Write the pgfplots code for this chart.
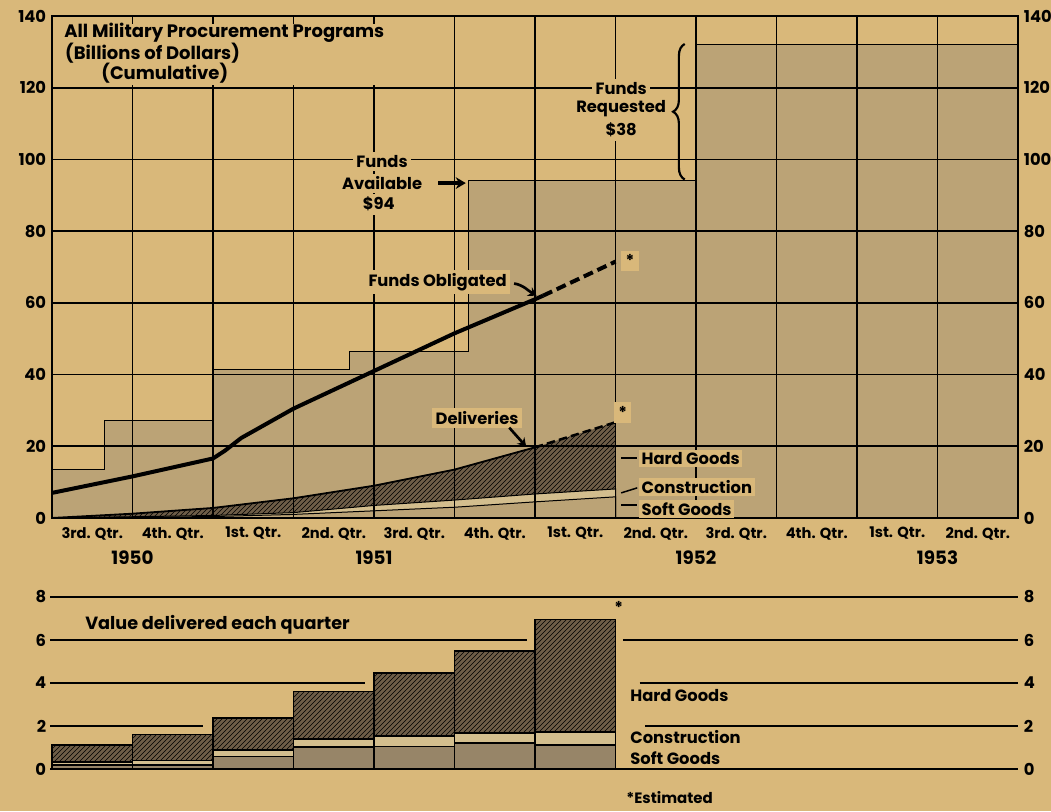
\documentclass[border=0pt]{standalone}
\usepackage{fontspec}
\setmainfont{Poppins}
\usepackage{pgfplots}
\pgfplotsset{compat=1.18}
\usetikzlibrary{patterns,decorations.pathreplacing,arrows.meta}
\definecolor{paper}{HTML}{D9B87A}
\definecolor{stip}{HTML}{BBA376}
\definecolor{hard}{HTML}{6E5D47}
\definecolor{softc}{HTML}{978568}
\definecolor{constc}{HTML}{D3BE8E}
\newcommand\lab{\bfseries\fontsize{9.8}{11}\selectfont}
\newcommand\qlab{\bfseries\fontsize{8.8}{10}\selectfont}
\pgfplotsset{
  topax/.style={
    at={(31.2pt,175.8pt)}, anchor=south west,
    scale only axis, width=579.6pt, height=301.2pt,
    xmin=0, xmax=12, ymin=0, ymax=140},
  botax/.style={
    at={(31.2pt,25.2pt)}, anchor=south west,
    scale only axis, width=579.6pt, height=103.2pt,
    xmin=0, xmax=12, ymin=0, ymax=8},
}
\begin{document}
\begin{tikzpicture}
\fill[paper] (0,0) rectangle (630.6pt,486.6pt);
% ---------------- top chart: filled areas ----------------
\begin{axis}[topax, hide axis, clip=false]
% funds available / requested
\addplot[const plot, fill=stip, draw=black, line width=0.6pt]
  coordinates {(0,13.6) (0.65,27.3) (2,41.5) (3.69,46.4) (5.17,94) (8,132) (12,132)} \closedcycle;
% deliveries (cumulative): hard goods, construction, soft goods
\addplot[fill=hard, draw=none, postaction={pattern=north east lines, pattern color=black}]
  coordinates {(0,0) (1,1.2) (2,2.8) (3,5.5) (4,9.0) (5,13.5) (6,19.7) (7,26.7)} \closedcycle;
\addplot[fill=constc, draw=black, line width=0.6pt]
  coordinates {(0,0) (1,0.35) (2,0.7) (3,1.5) (4,3.5) (5,5.0) (6,6.7) (7,8.1)} \closedcycle;
\addplot[fill=stip, draw=black, line width=0.6pt]
  coordinates {(0,0) (1,0.2) (2,0.4) (3,1.0) (4,2.0) (5,3.0) (6,4.5) (7,5.9)} \closedcycle;
\end{axis}
% ---------------- top chart: frame, grid, lines, labels ----------------
\begin{axis}[topax,
  clip=false,
  axis line style={line width=1.3pt},
  xtick={0.5,1.5,...,11.5},
  xticklabels={3rd. Qtr.,4th. Qtr.,1st. Qtr.,2nd. Qtr.,3rd. Qtr.,4th. Qtr.,1st. Qtr.,2nd. Qtr.,3rd. Qtr.,4th. Qtr.,1st. Qtr.,2nd. Qtr.},
  minor xtick={1,...,11},
  xminorgrids=true, xmajorgrids=false,
  ytick={0,20,...,140}, ymajorgrids=true,
  major grid style={black, line width=1pt},
  minor grid style={black, line width=1pt},
  tick style={draw=none},
  yticklabel pos=left,
  yticklabel style={font=\lab},
  xticklabel style={font=\qlab, yshift=-2pt},
  /pgf/number format/assume math mode=true,
]
% deliveries top edge
\addplot[black, line width=1.1pt] coordinates {(0,0) (1,1.2) (2,2.8) (3,5.5) (4,9.0) (5,13.5) (6,19.7)};
\addplot[black, line width=1.5pt, dash pattern=on 5pt off 2.5pt] coordinates {(6,19.7) (7,26.7)};
% funds obligated
\addplot[black, line width=2.4pt] coordinates {(0,7) (1,11.6) (2,16.6) (2.15,18.8) (2.35,22.3) (3,30.5) (4,41) (5,51.5) (6,61) (6.1,62)};
\addplot[black, line width=2.4pt, dash pattern=on 6pt off 3pt] coordinates {(6.1,62) (7,71.5)};
% blank title area
\fill[paper] (axis cs:0.04,120.8) rectangle (axis cs:4.15,139.3);
\draw[line width=1pt] (axis cs:1,140) -- (axis cs:1,137.8);
\draw[line width=1pt] (axis cs:2,140) -- (axis cs:2,137.8);
\draw[line width=1pt] (axis cs:3,140) -- (axis cs:3,137.8);
\draw[line width=1pt] (axis cs:4,140) -- (axis cs:4,137.8);
\node[anchor=west, font=\bfseries\fontsize{10.8}{12}\selectfont, inner sep=0] at (axis cs:0.15,135.2) {All Military Procurement Programs};
\node[anchor=west, font=\bfseries\fontsize{10.8}{12}\selectfont, inner sep=0] at (axis cs:0.16,129.7) {(Billions of Dollars)};
\node[anchor=west, font=\bfseries\fontsize{10.8}{12}\selectfont, inner sep=0] at (axis cs:0.61,124.1) {(Cumulative)};
% funds available
\node[fill=paper, font=\lab, inner sep=2pt] at (axis cs:4.1,99.4) {Funds};
\node[fill=paper, font=\lab, inner sep=2pt] at (axis cs:4.1,93.3) {Available};
\node[fill=paper, font=\lab, inner sep=2pt] at (axis cs:4.06,87.5) {\$94};
\draw[-{Stealth[length=6pt,width=7pt]}, line width=2pt] (axis cs:4.8,93.4) -- (axis cs:5.14,93.4);
% funds requested
\node[fill=paper, font=\lab, inner sep=2pt] at (axis cs:7.07,119.9) {Funds};
\node[fill=paper, font=\lab, inner sep=2pt] at (axis cs:7.07,114.1) {Requested};
\node[fill=paper, font=\lab, inner sep=2pt] at (axis cs:7.07,108.2) {\$38};
\draw[decorate, decoration={brace, amplitude=7pt}, line width=1.3pt] (axis cs:7.86,94.4) -- (axis cs:7.86,132.2);
% funds obligated label
\node[fill=paper, font=\lab, inner sep=2pt] at (axis cs:4.79,65.8) {Funds Obligated};
\draw[-{Stealth[length=5pt,width=6pt]}, line width=1.6pt] (axis cs:5.74,65.4) to[out=-10,in=150] (axis cs:6.02,62.0);
\node[fill=paper, font=\lab, inner sep=2.5pt] at (axis cs:7.18,71.7) {*};
% deliveries label
\node[fill=paper, font=\lab, inner sep=2pt] at (axis cs:5.28,27.9) {Deliveries};
\draw[-{Stealth[length=5pt,width=6pt]}, line width=1.6pt] (axis cs:5.68,25.2) -- (axis cs:5.89,19.9);
\node[fill=paper, font=\lab, inner sep=2.5pt] at (axis cs:7.09,29.4) {*};
% layer labels
\draw[line width=0.9pt] (axis cs:7.07,16.7) -- (axis cs:7.27,16.7);
\draw[line width=0.9pt] (axis cs:7.07,7.0) -- (axis cs:7.27,8.4);
\draw[line width=0.9pt] (axis cs:7.07,3.6) -- (axis cs:7.27,3.6);
\node[anchor=west, fill=paper, font=\lab, inner sep=1.5pt] at (axis cs:7.29,16.7) {Hard Goods};
\node[anchor=west, fill=paper, font=\lab, inner sep=1.5pt] at (axis cs:7.29,8.6) {Construction};
\node[anchor=west, fill=paper, font=\lab, inner sep=1.5pt] at (axis cs:7.29,2.5) {Soft Goods};
% years
\node[font=\bfseries\fontsize{11}{13}\selectfont] at (axis cs:1,0) [yshift=-24pt] {1950};
\node[font=\bfseries\fontsize{11}{13}\selectfont] at (axis cs:4,0) [yshift=-24pt] {1951};
\node[font=\bfseries\fontsize{11}{13}\selectfont] at (axis cs:8,0) [yshift=-24pt] {1952};
\node[font=\bfseries\fontsize{11}{13}\selectfont] at (axis cs:11,0) [yshift=-24pt] {1953};
\end{axis}
% right labels of top chart
\begin{axis}[topax,
  hide x axis, axis line style={draw=none}, tick style={draw=none},
  ytick={0,20,...,140}, yticklabel pos=right,
  yticklabel style={font=\lab},
  /pgf/number format/assume math mode=true,
]
\addplot[draw=none] coordinates {(0,0) (12,140)};
\end{axis}
% ---------------- bottom chart: lines + left labels ----------------
\begin{axis}[botax,
  clip=false,
  hide x axis, axis line style={draw=none}, tick style={draw=none},
  ytick={0,2,...,8}, yticklabel pos=left,
  yticklabel style={font=\lab},
  /pgf/number format/assume math mode=true,
]
\addplot[black, line width=1.6pt] coordinates {(-0.02,8) (12,8)};
\addplot[black, line width=1.6pt] coordinates {(-0.02,6) (5.9,6)};
\addplot[black, line width=1.6pt] coordinates {(7.09,6) (12,6)};
\addplot[black, line width=1.6pt] coordinates {(-0.02,4) (3.89,4)};
\addplot[black, line width=1.6pt] coordinates {(7.3,4) (12,4)};
\addplot[black, line width=1.6pt] coordinates {(-0.02,2) (1.88,2)};
\addplot[black, line width=1.6pt] coordinates {(7.37,2) (12,2)};
\addplot[black, line width=1.6pt] coordinates {(-0.02,0) (12,0)};
\end{axis}
% ---------------- bottom chart: bars + right labels ----------------
\begin{axis}[botax,
  clip=false,
  ybar stacked, bar width=1,
  hide x axis, axis line style={draw=none}, tick style={draw=none},
  ytick={0,2,...,8}, yticklabel pos=right,
  yticklabel style={font=\lab},
  /pgf/number format/assume math mode=true,
]
\addplot[fill=softc, draw=black, line width=1pt] coordinates {(0.5,0.18) (1.5,0.2) (2.5,0.58) (3.5,1.03) (4.5,1.04) (5.5,1.2) (6.5,1.12)};
\addplot[fill=constc, draw=black, line width=1pt] coordinates {(0.5,0.16) (1.5,0.2) (2.5,0.3) (3.5,0.35) (4.5,0.51) (5.5,0.47) (6.5,0.6)};
\addplot[fill=hard, draw=black, line width=1pt, postaction={pattern=north east lines, pattern color=black}] coordinates {(0.5,0.79) (1.5,1.2) (2.5,1.48) (3.5,2.22) (4.5,2.9) (5.5,3.83) (6.5,5.23)};
\node[anchor=west, font=\bfseries\fontsize{10.6}{12}\selectfont, inner sep=0] at (axis cs:0.41,6.7) {Value delivered each quarter};
\node[anchor=west, font=\lab, inner sep=0] at (axis cs:7.18,3.44) {Hard Goods};
\node[anchor=west, font=\lab, inner sep=0] at (axis cs:7.18,1.49) {Construction};
\node[anchor=west, font=\lab, inner sep=0] at (axis cs:7.18,0.51) {Soft Goods};
\node[font=\lab, inner sep=0] at (axis cs:7.04,7.5) {*};
\node[anchor=west, font=\bfseries\fontsize{9}{11}\selectfont, inner sep=0] at (axis cs:7.13,-1.35) {*Estimated};
\end{axis}
\pgfresetboundingbox
\path[use as bounding box] (0,0) rectangle (630.6pt,486.6pt);
\end{tikzpicture}
\end{document}
